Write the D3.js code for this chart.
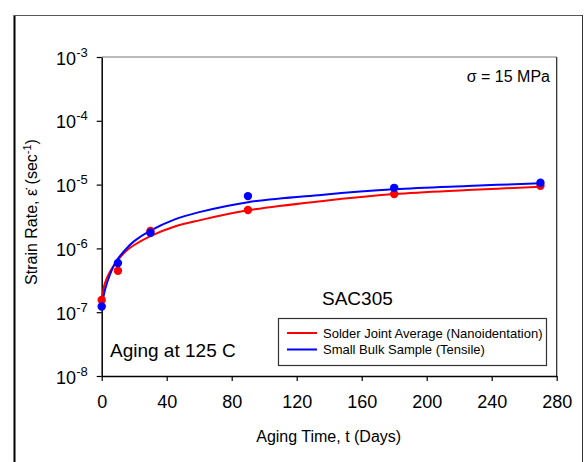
<!DOCTYPE html>
<html>
<head>
<meta charset="utf-8">
<script src="https://cdn.jsdelivr.net/npm/d3@7"></script>
<style>
  body { margin: 0; background: #fff; }
  svg text { font-family: "Liberation Sans", Arial, sans-serif; fill: #000; }
</style>
</head>
<body>
<div id="chart"></div>
<script>
// measured points
var agingDays = [0, 10, 30, 90, 180, 270];
var solderJoint = [1.55e-7, 4.45e-7, 1.87e-6, 4.0e-6, 7.1e-6, 9.6e-6];
var bulkSample = [1.23e-7, 5.9e-7, 1.76e-6, 6.6e-6, 8.9e-6, 1.07e-5];

// fitted curves
var fitDays = [0, 2, 5, 9, 15, 20, 30, 45, 60, 90, 135, 180, 225, 270];
var solderFit = [1.55e-7, 2.87e-7, 4.27e-7, 6.1e-7, 9.1e-7, 1.13e-6, 1.56e-6, 2.2e-6, 2.75e-6, 3.95e-6, 5.5e-6, 7.1e-6, 8.2e-6, 9.27e-6];
var bulkFit = [1.22e-7, 2.23e-7, 3.83e-7, 6.35e-7, 9.8e-7, 1.3e-6, 1.9e-6, 2.85e-6, 3.7e-6, 5.3e-6, 6.9e-6, 8.44e-6, 9.5e-6, 1.05e-5];

var xTicks = [0, 40, 80, 120, 160, 200, 240, 280];
var yTicks = [1e-8, 1e-7, 1e-6, 1e-5, 1e-4, 1e-3];
var yExponents = ["-8", "-7", "-6", "-5", "-4", "-3"];

var seriesNames = ["Solder Joint Average (Nanoidentation)", "Small Bulk Sample (Tensile)"];
var seriesColors = ["#ff0000", "#0000ff"];

var props = {
  width : 585,
  height : 462,
  left : 101.7,
  top : 57,
  right : 556.7,
  bottom : 376
};

var svg = d3.select("#chart").append("svg")
  .attr("width", props.width)
  .attr("height", props.height);

// outer frame
svg.append("line").attr("x1", 14.5).attr("x2", 14.5).attr("y1", 15).attr("y2", props.height)
  .style("stroke", "#000").style("stroke-width", 2);
svg.append("line").attr("x1", 14).attr("x2", 583).attr("y1", 15.5).attr("y2", 15.5)
  .style("stroke", "#555").style("stroke-width", 1);
svg.append("line").attr("x1", 582.5).attr("x2", 582.5).attr("y1", 15).attr("y2", props.height)
  .style("stroke", "#333").style("stroke-width", 1);

var x = d3.scaleLinear().domain([0, 280]).range([props.left, props.right]);
var y = d3.scaleLog().domain([1e-8, 1e-3]).range([props.bottom, props.top]);

// plot border (top + right)
svg.append("line").attr("x1", props.left).attr("x2", props.right).attr("y1", props.top).attr("y2", props.top)
  .style("stroke", "#777").style("stroke-width", 1.2);
svg.append("line").attr("x1", props.right).attr("x2", props.right).attr("y1", props.top).attr("y2", props.bottom)
  .style("stroke", "#222").style("stroke-width", 1.2);

var xAxis = svg.append("g")
  .attr("transform", "translate(0," + props.bottom + ")")
  .call(d3.axisBottom(x).tickValues(xTicks).tickSize(5).tickSizeOuter(0).tickPadding(14));
xAxis.selectAll("text").style("font-size", "18px").style("font-family", "Liberation Sans, Arial, sans-serif");

var yAxis = svg.append("g")
  .attr("transform", "translate(" + props.left + ",0)")
  .call(d3.axisLeft(y).tickValues(yTicks).tickSize(5).tickSizeOuter(0).tickFormat(""));

[xAxis, yAxis].forEach(function(a){
  a.select(".domain").style("stroke", "#000").style("stroke-width", 1.5);
  a.selectAll(".tick line").style("stroke", "#000").style("stroke-width", 1.2);
});

yAxis.selectAll(".tick").each(function(d, i){
  var t = d3.select(this).append("text")
    .attr("x", -14)
    .attr("y", 7)
    .attr("text-anchor", "end")
    .style("font-size", "18px")
    .style("fill", "#000");
  t.append("tspan").text("10");
  t.append("tspan").attr("dy", -8).style("font-size", "13px").text(yExponents[i]);
});

// axis titles
svg.append("text")
  .attr("x", (props.left + props.right) / 2 - 0.5)
  .attr("y", 442)
  .attr("text-anchor", "middle")
  .style("font-size", "16px")
  .text("Aging Time, t (Days)");

var yTitle = svg.append("text")
  .attr("transform", "translate(37,212) rotate(-90)")
  .attr("text-anchor", "middle")
  .style("font-size", "16px");
yTitle.append("tspan").text("Strain Rate, \u03b5\u0307 (sec");
yTitle.append("tspan").attr("dy", -6).style("font-size", "11px").text("-1");
yTitle.append("tspan").attr("dy", 6).text(")");

// curves
var fitLine = d3.line()
  .curve(d3.curveCatmullRom.alpha(0.5))
  .x(function(d){ return x(d[0]); })
  .y(function(d){ return y(d[1]); });

var fits = [solderFit, bulkFit];
var points = [solderJoint, bulkSample];

fits.forEach(function(vals, k){
  svg.append("path")
    .attr("d", fitLine(fitDays.map(function(t, i){ return [t, vals[i]]; })))
    .style("fill", "none")
    .style("stroke", seriesColors[k])
    .style("stroke-width", 2);
});

points.forEach(function(vals, k){
  svg.selectAll(".pt-" + k)
    .data(agingDays.map(function(t, i){ return [t, vals[i]]; }))
    .enter().append("circle")
    .attr("class", "pt-" + k)
    .attr("cx", function(d){ return x(d[0]); })
    .attr("cy", function(d){ return y(d[1]); })
    .attr("r", 4.2)
    .style("fill", seriesColors[k]);
});

// annotations
svg.append("text").attr("x", 550).attr("y", 82).attr("text-anchor", "end")
  .style("font-size", "16px").text("\u03c3 = 15 MPa");
svg.append("text").attr("x", 322).attr("y", 305)
  .style("font-size", "19px").text("SAC305");
svg.append("text").attr("x", 110).attr("y", 357)
  .style("font-size", "19px").text("Aging at 125 C");

// legend
var legend = svg.append("g");
legend.append("rect")
  .attr("x", 278.5).attr("y", 318.5).attr("width", 268).attr("height", 47)
  .style("fill", "#fff").style("stroke", "#333").style("stroke-width", 1.2);
seriesNames.forEach(function(name, i){
  var ly = 333 + i * 16.5;
  legend.append("line").attr("x1", 287).attr("x2", 317).attr("y1", ly).attr("y2", ly)
    .style("stroke", seriesColors[i]).style("stroke-width", 2);
  legend.append("text").attr("x", 323).attr("y", ly + 4.5)
    .style("font-size", "13px").text(name);
});
</script>
</body>
</html>
